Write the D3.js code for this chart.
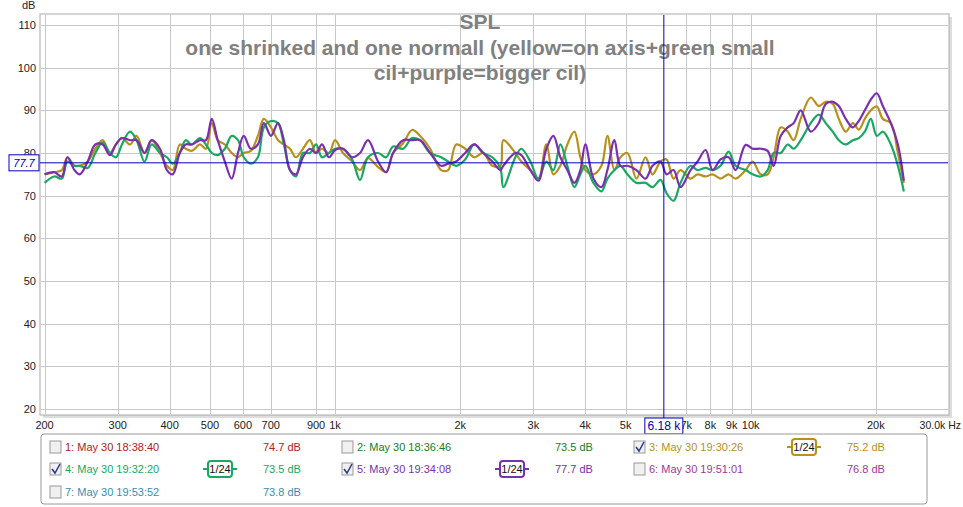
<!DOCTYPE html>
<html><head><meta charset="utf-8">
<script src="https://cdn.jsdelivr.net/npm/d3@7"></script>
<style>body{margin:0;background:#fff;font-family:Arial,"Liberation Sans",sans-serif}</style>
</head><body><div id="chart"></div>
<script>
// measurement frequencies (Hz)
const freqs = [200,211,220,227,236,243,254,265,276,287,297,307,321,333,348,362,379,394,407,423,437,452,473,489,505,522,543,564,584,603,627,652,674,701,729,753,779,805,837,870,900,930,967,
  1000,1045,1099,1148,1200,1269,1327,1379,1458,1532,1602,1693,1800,1871,1956,2056,2162,2272,2390,2498,2540,2715,2806,2950,3083,3224,3351,3484,3621,3765,3892,4001,4184,4374,4521,4700,4859,5051,5311,5584,5805,
  6068,6273,6522,6780,7166,7450,7789,8096,8464,8848,9200,9724,10108,10568,10986,11356,11806,12275,12690,13192,13946,14578,15156,15756,16289,16934,17608,18202,18816,19454,20110,20790,21740,22600,23360];
const yellow = [75,75.5,76,79,77,77,78,81,83,80,82,83.5,82,84,80,83,80,77,76,82,81,80.5,82,81,87,83,82,80,79,80,80.5,84,88,86,83,82,81,79,81,83,80,81,80,
  83,80,78,76,78.8,76.7,75.5,80,82.3,85.4,84,81,76,76,82,81,79,80,77,77,83,80,78,76,74,82,75,77,82,85,79,76,75,77,84,76,79,80,74,79,75,
  78,78.5,74,76,74,75,74.5,75,74,75,74,76,78,75,75,79,86,85,83,88,93,91,92,91.5,88,85,87,85.5,88,90,90.9,88,87,80,73];
const green = [73,74.5,74,78,77,77,76.5,80,82.5,80,79,82,85,83,78,82,80,79,77.5,80,83,82,83.5,82,80,79.5,81,84,83,79,77.5,79,86,87.5,87,82,76,74.5,80,80,82,79,80,
  81,81,78.5,73.7,79,80,79,81.5,81,83.5,83,80,79,78,77,78.5,82,80,79,76.5,72,79,81,78,74,78,76,82,77,72,75,77,73,71,74,76,77,75,73,73,72,
  73.7,70.6,68.8,73,77,76,76.5,76,77,80.3,77,76,75,74.5,76,80,80,82,81,83,87,89,87,85,83,82,83,83.5,85,88,84,85,82,77,71];
const purple = [75,75.5,74.5,79,76,75,78,82,82,79.5,82,83.5,83,83,80,83,81,76,75,80,82,82,83,83,88,83,78,74,80,84,81,82,87,84,87,83,76,75,79,81,80,82,79,
  80.7,81,79,80,83,78,75.5,80,83,83,83,80,77,77.5,78,80,82,80,78,76,77,80,79.5,76,73.5,81,84,79,76,73,76,82,74,72,76,83,77,77,76,74,77,
  78,75,76,72,76,78,80.7,76,78.5,79,76,81.9,81,81,80.5,77,84,86,87,90,85,87,91.5,92,91,88,86,87.5,90,92.5,94,91,87,82,73.5];
const series = [
  {name:"yellow", color:"#b8901c", v:yellow},
  {name:"green", color:"#19a862", v:green},
  {name:"purple", color:"#7a2fae", v:purple}
];
const xTicks = [200,300,400,500,600,700,900,1000,2000,3000,4000,5000,7000,8000,9000,10000,20000];
const xLabels = ["200","300","400","500","600","700","900","1k","2k","3k","4k","5k","7k","8k","9k","10k","20k"];
const yTicks = [20,30,40,50,60,70,80,90,100,110];
const legendRows = [
  {id:"1: May 30 18:38:40", db:"74.7 dB", color:"#b02020", on:false},
  {id:"2: May 30 18:36:46", db:"73.5 dB", color:"#1e7a1e", on:false},
  {id:"3: May 30 19:30:26", db:"75.2 dB", color:"#b8901c", on:true},
  {id:"4: May 30 19:32:20", db:"73.5 dB", color:"#19a862", on:true},
  {id:"5: May 30 19:34:08", db:"77.7 dB", color:"#7a2fae", on:true},
  {id:"6: May 30 19:51:01", db:"76.8 dB", color:"#a03898", on:false},
  {id:"7: May 30 19:53:52", db:"73.8 dB", color:"#3c8cb4", on:false}
];
const cursorF = 6180, cursorDb = 77.7;

const W = 963, H = 507;
const svg = d3.select("#chart").append("svg").attr("width", W).attr("height", H);
const x = d3.scaleLog().domain([195, 30000]).range([40, 949]);
const y = d3.scaleLinear().domain([20, 110]).range([409, 25]);

// frame with shadow
svg.append("rect").attr("x", 43).attr("y", 17).attr("width", 909).attr("height", 401).attr("fill", "#ddd");
svg.append("rect").attr("x", 40).attr("y", 14).attr("width", 909).attr("height", 401).attr("fill", "#fff").attr("stroke", "#aaa");

const grid = svg.append("g").attr("stroke", "#c8c8c8").attr("stroke-width", 1);
grid.selectAll(".vx").data(xTicks).enter().append("line")
  .attr("x1", d => Math.round(x(d)) + 0.5).attr("x2", d => Math.round(x(d)) + 0.5).attr("y1", 15).attr("y2", 414);
grid.selectAll(".hy").data(yTicks).enter().append("line")
  .attr("x1", 41).attr("x2", 948).attr("y1", d => Math.round(y(d)) + 0.5).attr("y2", d => Math.round(y(d)) + 0.5);

svg.append("g").selectAll("text").data(yTicks).enter().append("text")
  .attr("x", 36).attr("y", d => y(d) + 4).attr("text-anchor", "end")
  .attr("font-size", 11).attr("fill", "#222").text(d => d);
svg.append("text").attr("x", 22).attr("y", 9).attr("font-size", 11).attr("fill", "#222").text("dB");
svg.append("g").selectAll("text").data(xTicks).enter().append("text")
  .attr("x", d => x(d)).attr("y", 429).attr("text-anchor", "middle")
  .attr("font-size", 11).attr("fill", "#222").text((d, i) => xLabels[i]);
svg.append("text").attr("x", 961).attr("y", 429).attr("text-anchor", "end").attr("font-size", 10.5).attr("fill", "#222").text("30.0k Hz");

// title
const title = svg.append("g").attr("fill", "#808080").attr("font-weight", "bold").attr("font-size", 21).attr("text-anchor", "middle");
title.append("text").attr("x", 480).attr("y", 29).text("SPL");
title.append("text").attr("x", 480).attr("y", 55).text("one shrinked and one normall (yellow=on axis+green small");
title.append("text").attr("x", 480).attr("y", 80).text("cil+purple=bigger cil)");

const line = d3.line().x((d, i) => x(freqs[i])).y(d => y(d)).curve(d3.curveCatmullRom);
svg.append("g").selectAll("path").data(series).enter().append("path")
  .attr("d", s => line(s.v)).attr("fill", "none").attr("stroke", s => s.color).attr("stroke-width", 2.2);

// cursor
const cx = x(cursorF), cy = y(cursorDb);
svg.append("line").attr("x1", cx).attr("x2", cx).attr("y1", 15).attr("y2", 420).attr("stroke", "#0000c0");
svg.append("line").attr("x1", 40).attr("x2", 948).attr("y1", cy).attr("y2", cy).attr("stroke", "#0000c0");
svg.append("rect").attr("x", 9).attr("y", cy - 8).attr("width", 30).attr("height", 16).attr("fill", "#fff").attr("stroke", "#0000c0");
svg.append("text").attr("x", 24).attr("y", cy + 4).attr("text-anchor", "middle").attr("font-size", 11).attr("font-style", "italic").attr("fill", "#0000c0").text("77.7");
svg.append("rect").attr("x", cx - 19).attr("y", 418).attr("width", 38).attr("height", 16).attr("fill", "#fff").attr("stroke", "#0000c0");
svg.append("text").attr("x", cx).attr("y", 430).attr("text-anchor", "middle").attr("font-size", 12).attr("fill", "#0000c0").text("6.18 k");

// legend
svg.append("rect").attr("x", 41).attr("y", 434).attr("width", 886).attr("height", 70).attr("rx", 3)
  .attr("fill", "#fff").attr("stroke", "#999");
const colX = [50, 342, 634], rowY = [447, 469, 492];
const lg = svg.append("g").selectAll("g").data(legendRows).enter().append("g")
  .attr("transform", (d, i) => `translate(${colX[i % 3]},${rowY[Math.floor(i / 3)]})`);
lg.append("rect").attr("x", 0).attr("y", -6).attr("width", 11).attr("height", 12).attr("fill", "#f0f0f0").attr("stroke", "#999");
lg.filter(d => d.on).append("path").attr("d", "M2,0 L5,4 L10,-5").attr("fill", "none").attr("stroke", "#2a3a8a").attr("stroke-width", 1.5);
lg.append("text").attr("x", 15).attr("y", 4).attr("font-size", 11).attr("fill", d => d.color).text(d => d.id);
lg.append("text").attr("x", 213).attr("y", 4).attr("font-size", 11).attr("fill", d => d.color).text(d => d.db);
const ic = lg.filter(d => d.on).append("g").attr("transform", "translate(153,0)");
ic.append("line").attr("x1", 0).attr("x2", 34).attr("y1", 0).attr("y2", 0).attr("stroke", d => d.color).attr("stroke-width", 2);
ic.append("rect").attr("x", 5).attr("y", -8).attr("width", 24).attr("height", 16).attr("rx", 3).attr("fill", "#fff").attr("stroke", d => d.color).attr("stroke-width", 2);
ic.append("text").attr("x", 17).attr("y", 4).attr("text-anchor", "middle").attr("font-size", 11).attr("fill", "#111").text("1/24");
</script></body></html>
